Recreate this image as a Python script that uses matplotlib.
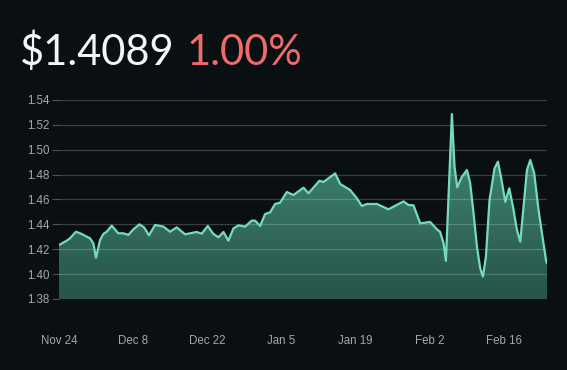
import matplotlib
matplotlib.use('Agg')
import matplotlib.pyplot as plt
import matplotlib.dates as mdates
from matplotlib.colors import LinearSegmentedColormap
from matplotlib.patches import PathPatch
import numpy as np
import pandas as pd

# price readings, x given as days since Nov 24
start = pd.Timestamp('2024-11-24')
days = [0.0, 1.45, 2.08, 3.21, 4.28, 5.86, 6.49, 6.99, 7.75, 8.38, 9.01, 9.96,
        11.2, 12.2, 13.1, 14.05, 15.2, 16.07, 17.0, 18.15, 19.72, 20.98, 22.24,
        23.82, 26.02, 26.97, 28.1, 29.17, 30.12, 31.07, 32.0, 32.96, 33.9, 35.16,
        36.42, 37.05, 38.0, 38.94, 39.89, 40.83, 41.78, 43.04, 44.29, 46.19, 47.13,
        49.21, 49.97, 52.17, 53.12, 55.01, 56.27, 57.22, 58.16, 60.06, 62.25, 65.09,
        66.03, 66.98, 68.24, 69.5, 70.1, 71.4, 72.0, 72.65, 73.1, 74.23, 74.73,
        75.24, 76.12, 77.07, 77.69, 78.32, 78.96, 79.58, 80.09, 80.66, 81.34,
        82.29, 82.93, 83.5, 84.31, 85.07, 85.77, 86.52, 87.15, 87.77, 88.41,
        89.04, 89.79, 90.6, 91.44, 92.06, 92.2]
prices = [1.4234, 1.4269, 1.4288, 1.4341, 1.4323, 1.4288, 1.4248, 1.4132, 1.4274,
          1.4323, 1.4341, 1.4390, 1.4328, 1.4328, 1.4315, 1.4360, 1.4400, 1.4376,
          1.4312, 1.4395, 1.4382, 1.4341, 1.4376, 1.4320, 1.4339, 1.4325, 1.4387,
          1.4323, 1.4296, 1.4339, 1.4269, 1.4368, 1.4392, 1.4382, 1.4430, 1.4430,
          1.4387, 1.4483, 1.4497, 1.4564, 1.4575, 1.4660, 1.4636, 1.4695, 1.4650,
          1.4751, 1.4741, 1.4810, 1.4725, 1.4676, 1.4610, 1.4548, 1.4564, 1.4564,
          1.4521, 1.4585, 1.4556, 1.4553, 1.4408, 1.4416, 1.4420, 1.4360, 1.4340,
          1.4250, 1.4106, 1.5287, 1.4864, 1.4698, 1.4783, 1.4837, 1.4730, 1.4489,
          1.4222, 1.4047, 1.3980, 1.4140, 1.4596, 1.4850, 1.4904, 1.4783, 1.4582,
          1.4690, 1.4542, 1.4355, 1.4261, 1.4542, 1.4837, 1.4918, 1.4810, 1.4516,
          1.4274, 1.4100, 1.4089]
y_ticks = [1.38, 1.40, 1.42, 1.44, 1.46, 1.48, 1.50, 1.52, 1.54]
price_label = '$1.4089'
change_label = '1.00%'

bg = '#0a0f12'
dates = start + pd.to_timedelta(days, unit='D')
xnum = mdates.date2num(dates)

fig = plt.figure(figsize=(5.67, 3.70), dpi=100, facecolor=bg)
ax = fig.add_axes([59 / 567, 71 / 370, 488 / 567, 199 / 370], facecolor=bg)

# gradient fill under the curve
poly = ax.fill_between(xnum, prices, y_ticks[0], color='none', lw=0)
patch = PathPatch(poly.get_paths()[0], transform=ax.transData,
                  facecolor='none', edgecolor='none')
ax.add_patch(patch)
cmap = LinearSegmentedColormap.from_list('fill', ['#26544a', '#468f7a'])
grad = np.linspace(0, 1, 256).reshape(-1, 1)
im = ax.imshow(grad, extent=[xnum[0], xnum[-1], 1.38, 1.53], origin='lower',
               aspect='auto', cmap=cmap, zorder=1)
im.set_clip_path(patch)

ax.plot(xnum, prices, color='#74dcbd', lw=1.6, zorder=3, solid_joinstyle='round')

for t in y_ticks:
    ax.axhline(t, color='white', alpha=0.2, lw=0.9, zorder=2)

ax.set_xlim(xnum[0], xnum[-1])
ax.set_ylim(1.38, 1.54)
ax.set_yticks(y_ticks)
ax.set_yticklabels([f'{t:.2f}' for t in y_ticks])
xt = [start + pd.Timedelta(days=14 * i) for i in range(7)]
ax.set_xticks(mdates.date2num(xt))
ax.set_xticklabels([f'{d:%b} {d.day}' for d in xt])

for s in ax.spines.values():
    s.set_visible(False)
ax.tick_params(axis='y', length=5, width=0.8, color='#4a5256', pad=2,
               labelcolor='#a3a8ab', labelsize=8.3)
ax.tick_params(axis='x', length=0, pad=26, labelcolor='#a3a8ab', labelsize=8.3)
for lab in ax.get_xticklabels() + ax.get_yticklabels():
    lab.set_fontfamily('Liberation Sans')

fig.text(20 / 567, 1 - 65 / 370, price_label, color='#f4f5f5', fontsize=30,
         family='Lato', va='baseline')
fig.text(187 / 567, 1 - 65 / 370, change_label, color='#ef6b6b', fontsize=30,
         family='Lato', va='baseline')

fig.savefig('out.png', dpi=100, facecolor=bg)
